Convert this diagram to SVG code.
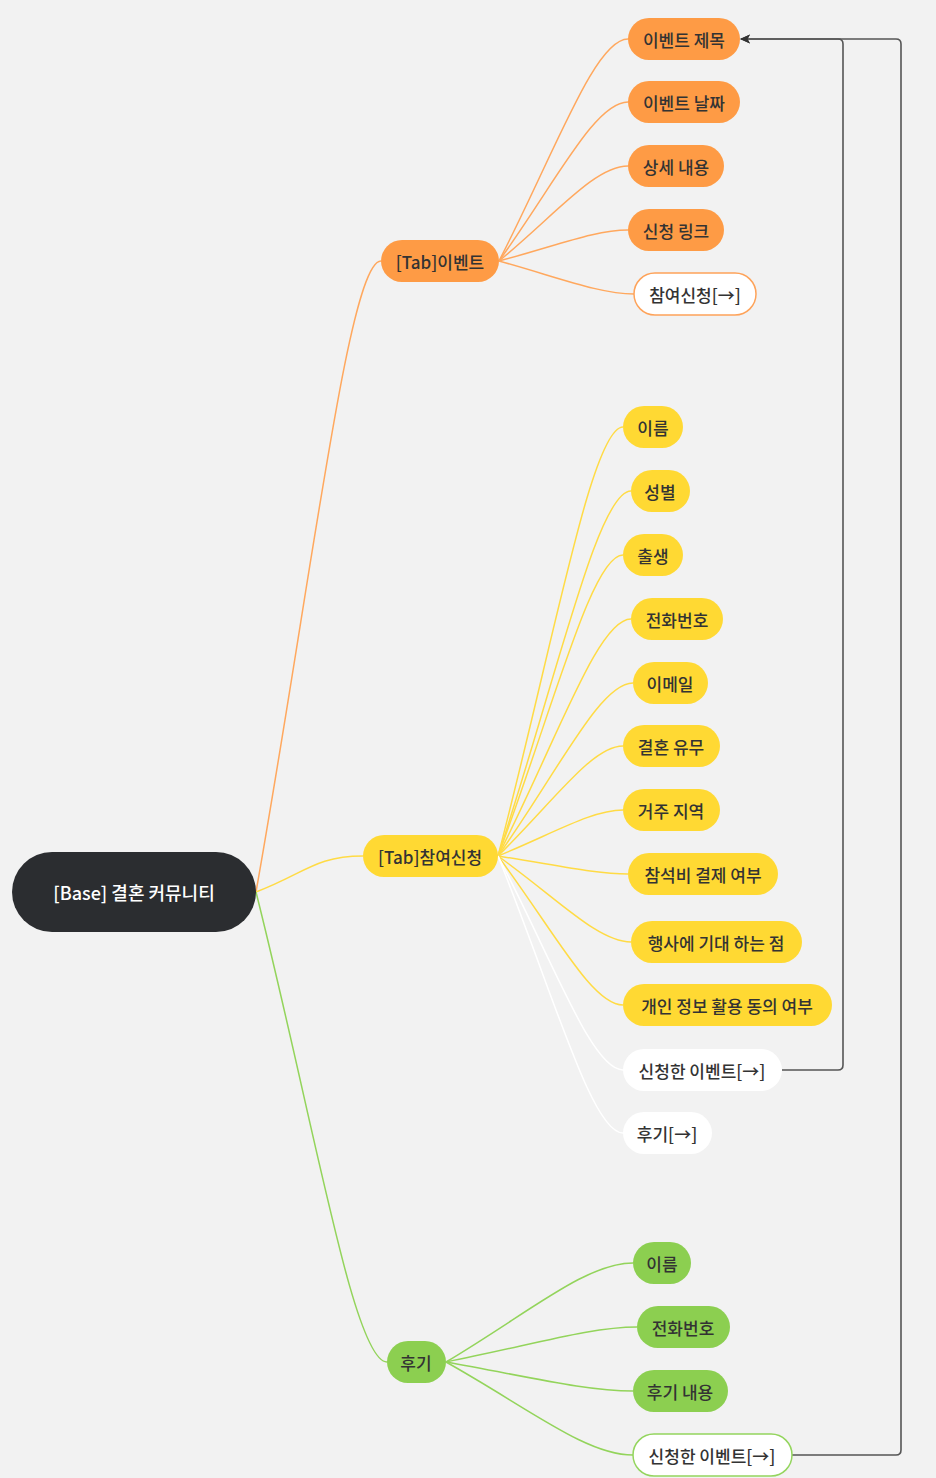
<svg xmlns="http://www.w3.org/2000/svg" width="936" height="1478" viewBox="0 0 936 1478">
<defs>
<marker id="arr" markerUnits="userSpaceOnUse" markerWidth="10" markerHeight="10" viewBox="0 0 10 10" refX="9" refY="5" orient="auto">
<path d="M0,0.5 L10,5 L0,9.5 L2.5,5 z" fill="#333"/>
</marker>
<style>
text{font-family:"Noto Sans CJK KR","Noto Sans",sans-serif;font-size:17px;font-weight:500;fill:#333;text-anchor:middle;dominant-baseline:central}
.root rect{fill:#2b2d30}
.root text{fill:#fff;font-size:18px}
.or rect{fill:#fe9b45}
.ye rect{fill:#ffd933}
.gr rect{fill:#8ccf50}
.wo rect{fill:#fff;stroke:#fea35a;stroke-width:1.5}
.wy rect{fill:#fff}
.wg rect{fill:#fff;stroke:#94d55e;stroke-width:1.5}
.c{fill:none;stroke-width:1.5}
.co{stroke:#ffa85e}
.cy{stroke:#ffdb45}
.cg{stroke:#93d45b}
.cw{stroke:#ffffff}
.link{fill:none;stroke:#555;stroke-width:1.6}
</style>
</defs>
<rect width="936" height="1478" fill="#f2f2f2"/>
<g id="connectors">
<path class="c co" d="M256,892 C312,576 349,261 381,261"/>
<path class="c cy" d="M256,892 C304,874 315,856 363,856"/>
<path class="c cg" d="M256,892 C315,1127 354,1362 387,1362"/>
<path class="c co" d="M499,261 C556,150 595,39 628,39"/>
<path class="c co" d="M499,261 C556,182 595,102 628,102"/>
<path class="c co" d="M499,261 C556,214 595,166 628,166"/>
<path class="c co" d="M499,261 C556,246 595,230 628,230"/>
<path class="c co" d="M499,261 C560,278 600,294 634,294"/>
<path class="c cy" d="M498,856 C554,641 592,427 623,427"/>
<path class="c cy" d="M498,856 C558,674 598,491 631,491"/>
<path class="c cy" d="M498,856 C554,706 592,555 623,555"/>
<path class="c cy" d="M498,856 C558,738 598,619 631,619"/>
<path class="c cy" d="M498,856 C559,770 600,683 633,683"/>
<path class="c cy" d="M498,856 C554,801 592,746 623,746"/>
<path class="c cy" d="M498,856 C554,833 592,810 623,810"/>
<path class="c cy" d="M498,856 C556,865 596,874 628,874"/>
<path class="c cy" d="M498,856 C558,899 598,942 631,942"/>
<path class="c cy" d="M498,856 C554,931 592,1005 623,1005"/>
<path class="c cw" d="M498,856 C554,963 592,1070 623,1070"/>
<path class="c cw" d="M498,856 C554,995 592,1133 623,1133"/>
<path class="c cg" d="M446,1362 C530,1312 586,1263 633,1263"/>
<path class="c cg" d="M446,1362 C532,1345 590,1327 637,1327"/>
<path class="c cg" d="M446,1362 C530,1377 586,1391 633,1391"/>
<path class="c cg" d="M446,1362 C530,1409 586,1455 633,1455"/>
<path class="link" marker-end="url(#arr)" d="M782,1070 H838 Q843,1070 843,1065 V44 Q843,39 838,39 H741"/>
<path class="link" marker-end="url(#arr)" d="M792,1455 H896 Q901,1455 901,1450 V44 Q901,39 896,39 H741"/>
</g>
<g id="root" class="root"><rect x="12" y="852" width="244" height="80" rx="40"/><text x="134" y="892">[Base] 결혼 커뮤니티</text></g>
<g id="tab-event" class="or"><rect x="381" y="240" width="118" height="42" rx="21"/><text x="440" y="261">[Tab]이벤트</text></g>
<g id="ev-title" class="or"><rect x="628" y="18" width="112" height="42" rx="21"/><text x="684" y="39">이벤트 제목</text></g>
<g id="ev-date" class="or"><rect x="628" y="81" width="112" height="42" rx="21"/><text x="684" y="102">이벤트 날짜</text></g>
<g id="ev-detail" class="or"><rect x="628" y="145" width="96" height="42" rx="21"/><text x="676" y="166">상세 내용</text></g>
<g id="ev-link" class="or"><rect x="628" y="209" width="96" height="42" rx="21"/><text x="676" y="230">신청 링크</text></g>
<g id="ev-apply" class="wo"><rect x="634" y="273" width="122" height="42" rx="21"/><text x="695" y="294">참여신청[→]</text></g>
<g id="tab-apply" class="ye"><rect x="363" y="835" width="135" height="42" rx="21"/><text x="430" y="856">[Tab]참여신청</text></g>
<g id="ap-name" class="ye"><rect x="623" y="406" width="60" height="42" rx="21"/><text x="653" y="427">이름</text></g>
<g id="ap-gender" class="ye"><rect x="631" y="470" width="59" height="42" rx="21"/><text x="660" y="491">성별</text></g>
<g id="ap-birth" class="ye"><rect x="623" y="534" width="60" height="42" rx="21"/><text x="653" y="555">출생</text></g>
<g id="ap-phone" class="ye"><rect x="631" y="598" width="92" height="42" rx="21"/><text x="677" y="619">전화번호</text></g>
<g id="ap-email" class="ye"><rect x="633" y="662" width="75" height="42" rx="21"/><text x="670" y="683">이메일</text></g>
<g id="ap-married" class="ye"><rect x="623" y="725" width="97" height="42" rx="21"/><text x="671" y="746">결혼 유무</text></g>
<g id="ap-region" class="ye"><rect x="623" y="789" width="97" height="42" rx="21"/><text x="671" y="810">거주 지역</text></g>
<g id="ap-fee" class="ye"><rect x="628" y="853" width="150" height="42" rx="21"/><text x="703" y="874">참석비 결제 여부</text></g>
<g id="ap-expect" class="ye"><rect x="631" y="921" width="171" height="42" rx="21"/><text x="716" y="942">행사에 기대 하는 점</text></g>
<g id="ap-consent" class="ye"><rect x="623" y="984" width="209" height="42" rx="21"/><text x="727" y="1005">개인 정보 활용 동의 여부</text></g>
<g id="ap-myevent" class="wy"><rect x="623" y="1049" width="159" height="42" rx="21"/><text x="702" y="1070">신청한 이벤트[→]</text></g>
<g id="ap-review" class="wy"><rect x="623" y="1112" width="89" height="42" rx="21"/><text x="667" y="1133">후기[→]</text></g>
<g id="review" class="gr"><rect x="387" y="1341" width="59" height="42" rx="21"/><text x="416" y="1362">후기</text></g>
<g id="rv-name" class="gr"><rect x="633" y="1242" width="58" height="42" rx="21"/><text x="662" y="1263">이름</text></g>
<g id="rv-phone" class="gr"><rect x="637" y="1306" width="93" height="42" rx="21"/><text x="683" y="1327">전화번호</text></g>
<g id="rv-content" class="gr"><rect x="633" y="1370" width="95" height="42" rx="21"/><text x="680" y="1391">후기 내용</text></g>
<g id="rv-myevent" class="wg"><rect x="633" y="1434" width="159" height="42" rx="21"/><text x="712" y="1455">신청한 이벤트[→]</text></g>
</svg>
